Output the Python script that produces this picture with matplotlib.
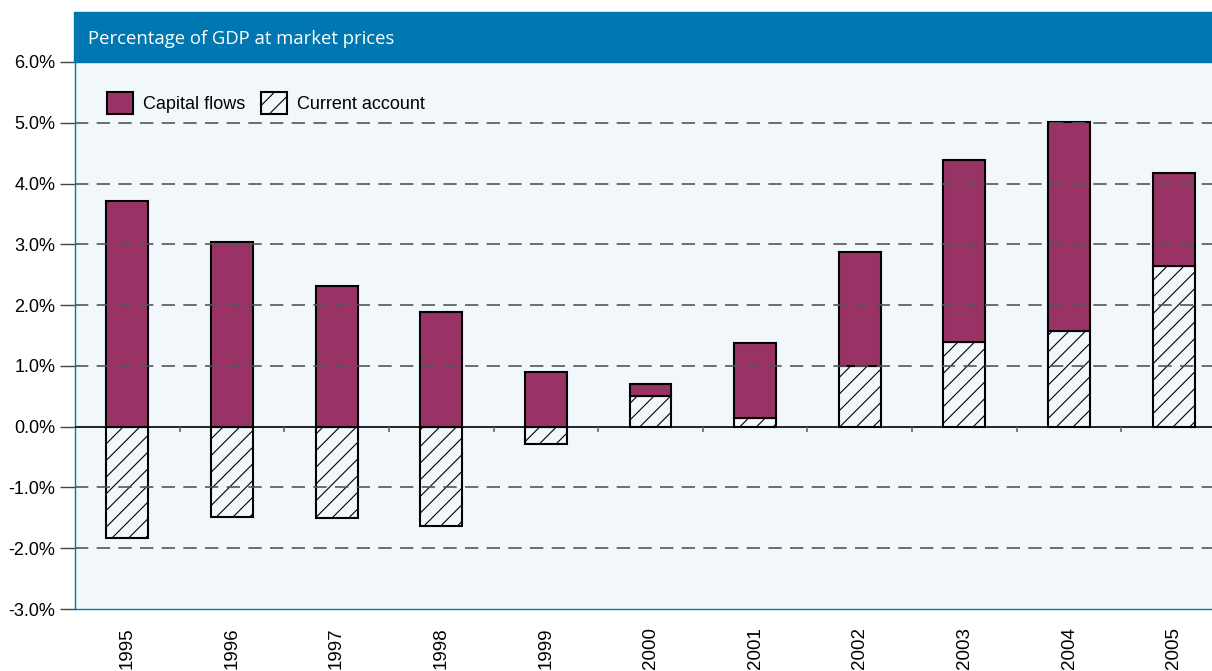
import matplotlib.pyplot as plt
import numpy as np
from matplotlib.patches import Rectangle

years = ['1995', '1996', '1997', '1998', '1999', '2000', '2001', '2002', '2003', '2004', '2005']
capital_flows = [3.72, 3.04, 2.32, 1.89, 0.90, 0.20, 1.23, 1.89, 2.99, 3.44, 1.53]
current_account = [-1.83, -1.48, -1.51, -1.63, -0.28, 0.51, 0.15, 0.99, 1.40, 1.58, 2.65]

plt.rcParams['font.family'] = ['Liberation Sans', 'DejaVu Sans']
plt.rcParams['hatch.linewidth'] = 0.8

fig = plt.figure(figsize=(12.12, 6.71), dpi=100)
ax = fig.add_axes([75/1212, (671-609)/671, 1151/1212, (609-62)/671])
ax.set_facecolor('#f2f7fb')

x = np.arange(len(years))
w = 0.4
cap_bottom = [max(c, 0) for c in current_account]

ax.bar(x, current_account, width=w, color='#f2f7fb', edgecolor='black',
       hatch='//', linewidth=1.5, zorder=2, label='Current account')
ax.bar(x, capital_flows, width=w, bottom=cap_bottom, color='#993366',
       edgecolor='black', linewidth=1.5, zorder=2, label='Capital flows')

# dashed grid drawn over the bars
for v in [5, 4, 3, 2, 1, -1, -2]:
    ax.axhline(v, color='#555555', lw=1.2, ls=(0, (8, 5)), zorder=3)
ax.axhline(0, color='black', lw=1.2, zorder=4)
# small ticks on the zero line between categories
ax.vlines(x[:-1] + 0.5, -0.09, 0, color='#666666', lw=1.2, zorder=4)

ax.set_xlim(-0.5, len(years) - 0.5)
ax.set_ylim(-3, 6)
ax.set_yticks(np.arange(-3, 7, 1))
ax.set_yticklabels([f'{v:.1f}%' for v in np.arange(-3, 7, 1)], fontsize=13)
ax.tick_params(axis='y', length=11, width=1, color='#444444', pad=3)
ax.set_xticks(x)
ax.set_xticklabels(years, rotation=90, fontsize=13.5, va='top')
ax.tick_params(axis='x', length=0, pad=13)

for s in ['top', 'right']:
    ax.spines[s].set_visible(False)
for s in ['left', 'bottom']:
    ax.spines[s].set_color('#0077b0')
    ax.spines[s].set_linewidth(1)

h, l = ax.get_legend_handles_labels()
ax.legend(h[::-1], l[::-1], loc='upper left', bbox_to_anchor=(0.0215, 0.958),
          frameon=False, fontsize=13, handlelength=1.45, handleheight=1.45,
          handletextpad=0.55, columnspacing=0.85, ncol=2, borderaxespad=0)

# header band
fig.patches.append(Rectangle((74/1212, (671-62)/671), 1 - 74/1212, 50/671,
                             transform=fig.transFigure, color='#0077b0', zorder=0))
fig.text(88/1212, (671-39)/671, 'Percentage of GDP at market prices',
         color='white', fontsize=13.3, family='Open Sans', va='center', ha='left')

fig.savefig('out.png', dpi=100)
